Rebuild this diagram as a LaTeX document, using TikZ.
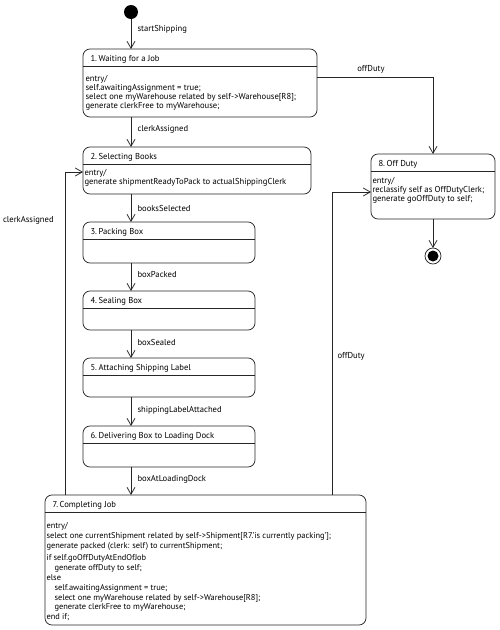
\documentclass[tikz,border=0pt]{standalone}
\usepackage{fontspec}
\setmainfont{PT Sans}
\usetikzlibrary{arrows.meta,calc}
\begin{document}
\begin{tikzpicture}[x=1pt,y=-1pt,
  every node/.style={inner sep=0pt, outer sep=0pt},
  ln/.style={line width=0.75pt, draw=black!85},
  statebox/.style={ln, rounded corners=7pt, anchor=north west},
  hdr/.style={font=\fontsize{8.6}{9}\selectfont, anchor=base west},
  body/.style={font=\fontsize{8.6}{9}\selectfont, align=left, anchor=north west},
  longbody/.style={body, font=\fontsize{8.4}{9.8}\selectfont},
  lbl/.style={font=\fontsize{8.6}{9}\selectfont, anchor=base west},
  trans/.style={ln, -{Straight Barb[length=7pt,width=8pt]}},
  divider/.style={ln},
]
\useasboundingbox (0,0) rectangle (500,630);

% initial and final states
\node[circle, fill=black, minimum size=14pt] (init) at (131,12) {};
\node[circle, ln, draw, minimum size=16pt,
  path picture={\fill[black] (path picture bounding box.center) circle (5.5pt);}] (fin) at (433,256) {};

% states
\node[statebox, minimum width=234pt, minimum height=68pt] (s1) at (83,49) {};
\node[statebox, minimum width=228pt, minimum height=47pt] (s2) at (83,147) {};
\node[statebox, minimum width=172pt, minimum height=41pt] (s3) at (83,222) {};
\node[statebox, minimum width=172pt, minimum height=39pt] (s4) at (83,291) {};
\node[statebox, minimum width=172pt, minimum height=39pt] (s5) at (83,358) {};
\node[statebox, minimum width=172pt, minimum height=41pt] (s6) at (83,426) {};
\node[statebox, minimum width=321pt, minimum height=130pt] (s7) at (45,495) {};
\node[statebox, minimum width=124pt, minimum height=65pt] (s8) at (371,154) {};

% dividers
\foreach \s in {s1,s2,s3,s4,s5,s6,s7,s8}
  \draw[divider] ($(\s.north west)+(0,17)$) -- ($(\s.north east)+(0,17)$);

% headers
\node[hdr] (s1h) at ($(s1.north west)+(7.5,12)$) {1.\kern1.6pt Waiting for a Job};
\node[hdr] (s2h) at ($(s2.north west)+(7.5,12)$) {2.\kern1.6pt Selecting Books};
\node[hdr] (s3h) at ($(s3.north west)+(7.5,12)$) {3.\kern1.6pt Packing Box};
\node[hdr] (s4h) at ($(s4.north west)+(7.5,12)$) {4.\kern1.6pt Sealing Box};
\node[hdr] (s5h) at ($(s5.north west)+(7.5,12)$) {5.\kern1.6pt Attaching Shipping Label};
\node[hdr] (s6h) at ($(s6.north west)+(7.5,12)$) {6.\kern1.6pt Delivering Box to Loading Dock};
\node[hdr] (s7h) at ($(s7.north west)+(7.5,12)$) {7.\kern1.6pt Completing Job};
\node[hdr] (s8h) at ($(s8.north west)+(7.5,12)$) {8.\kern1.6pt Off Duty};

% bodies
\node[body] (s1b) at ($(s1.north west)+(2.5,26.5)$) {entry/\\
self.awaitingAssignment = true;\\
select one myWarehouse related by self->Warehouse[R8];\\
generate clerkFree to myWarehouse;};
\node[body] (s2b) at ($(s2.north west)+(1.5,22.5)$) {entry/\\
generate shipmentReadyToPack to actualShippingClerk};
\node[body] (s8b) at ($(s8.north west)+(1.5,23.5)$) {entry/\\
reclassify self as OffDutyClerk;\\
generate goOffDuty to self;};
\node[longbody] (s7b) at ($(s7.north west)+(1.5,27.5)$) {entry/\\
select one currentShipment related by self->Shipment[R7.'is currently packing'];\\
generate packed (clerk: self) to currentShipment;\\[3pt]
if self.goOffDutyAtEndOfJob\\
\hspace*{8pt}generate offDuty to self;\\
else\\
\hspace*{8pt}self.awaitingAssignment = true;\\
\hspace*{8pt}select one myWarehouse related by self->Warehouse[R8];\\
\hspace*{8pt}generate clerkFree to myWarehouse;\\
end if;};

% transitions down the main column
\draw[trans] (init) -- (init |- s1.north);
\draw[trans] (s1.south -| init) -- (init |- s2.north);
\draw[trans] (s2.south -| init) -- (init |- s3.north);
\draw[trans] (s3.south -| init) -- (init |- s4.north);
\draw[trans] (s4.south -| init) -- (init |- s5.north);
\draw[trans] (s5.south -| init) -- (init |- s6.north);
\draw[trans] (s6.south -| init) -- (init |- s7.north);

\node[lbl] (l0) at (137.5,31.5) {startShipping};
\node[lbl] (l1) at (137.5,131.5) {clerkAssigned};
\node[lbl] (l2) at (137.5,211.5) {booksSelected};
\node[lbl] (l3) at (137.5,277.5) {boxPacked};
\node[lbl] (l4) at (137.5,345.5) {boxSealed};
\node[lbl] (l5) at (137.5,412.5) {shippingLabelAttached};
\node[lbl] (l6) at (137.5,481.5) {boxAtLoadingDock};

% side transitions
\draw[trans] ($(s1.north east)+(0,28)$) -| (s8.north);
\node[lbl, anchor=base] (l7) at (371,71.5) {offDuty};

\draw[trans] ($(s7.north west)+(287,0)$) |- ($(s8.north west)+(0,38)$);
\node[lbl] (l8) at (337.5,358.5) {offDuty};

\draw[trans] ($(s7.north west)+(20,0)$) |- ($(s2.north west)+(0,25)$);
\node[lbl] (l9) at (3,222.5) {clerkAssigned};

\draw[trans] (s8.south) -- (fin);
\end{tikzpicture}
\end{document}
